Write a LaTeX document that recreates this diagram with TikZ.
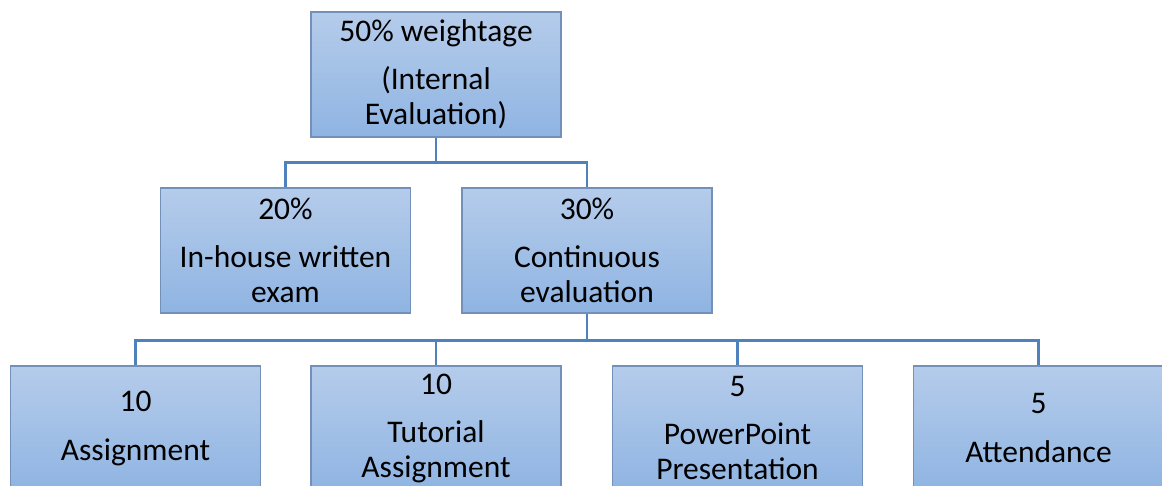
\documentclass[tikz,border=0pt]{standalone}
\usepackage{fontspec}
\setmainfont{Carlito}
\definecolor{boxtop}{HTML}{B5CCEB}
\definecolor{boxbot}{HTML}{8FB4E2}
\definecolor{boxline}{HTML}{7391B8}
\definecolor{connline}{HTML}{4F81BD}
\tikzset{
  evalbox/.style={rectangle, draw=boxline, line width=1.2pt, top color=boxtop, bottom color=boxbot,
    minimum width=250pt, minimum height=125pt, align=center, inner sep=2pt,
    font=\fontsize{31.5}{35}\selectfont},
  conn/.style={draw=connline, line width=2.4pt}
}
\begin{document}
\begin{tikzpicture}[x=1pt, y=-1pt]
\useasboundingbox (0,0) rectangle (1162,486);
\node[evalbox] (top) at (436,74.5){50\% weightage\\[13pt](Internal\\Evaluation)};
\node[evalbox] (inhouse) at (285.5,250.5){20\%\\[13pt]In-house written\\exam};
\node[evalbox] (contin) at (587,250.5){30\%\\[13pt]Continuous\\evaluation};
\node[evalbox] (assign) at (135.5,428.5){10\\[14pt]Assignment};
\node[evalbox] (tutor) at (436,428.5){10\\[13pt]Tutorial\\Assignment};
\node[evalbox] (ppt) at (737.5,428.5){5\\[13pt]PowerPoint\\Presentation};
\node[evalbox] (attend) at (1038.5,428.5){5\\[14pt]Attendance};
\draw[conn](top.south) -- ++(0,25) -| (inhouse.north);
\draw[conn](top.south) -- ++(0,25) -| (contin.north);
\draw[conn](contin.south) -- ++(0,27) -| (assign.north);
\draw[conn](contin.south) -- ++(0,27) -| (tutor.north);
\draw[conn](contin.south) -- ++(0,27) -| (ppt.north);
\draw[conn](contin.south) -- ++(0,27) -| (attend.north);
\end{tikzpicture}
\end{document}
